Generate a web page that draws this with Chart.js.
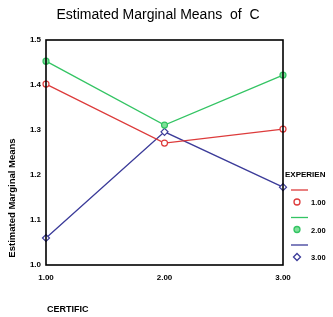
<!DOCTYPE html>
<html><head><meta charset="utf-8">
<script src="https://cdn.jsdelivr.net/npm/chart.js@4"></script>
<style>html,body{margin:0;padding:0;background:#fff;}#wrap{width:333px;height:317px;position:relative;}</style>
</head><body><div id="wrap"><canvas id="c" width="333" height="317"></canvas></div>
<script>
const categories = ['1.00', '2.00', '3.00'];
const seriesNames = ['1.00', '2.00', '3.00'];
const series1 = [1.402, 1.271, 1.302];
const series2 = [1.453, 1.311, 1.422];
const series3 = [1.060, 1.296, 1.173];
const yTicks = ['1.0', '1.1', '1.2', '1.3', '1.4', '1.5'];
const colors = ['#dd3b3b', '#33c463', '#3b3b99'];

const styles = ['circle', 'circle', 'rectRot'];
const fills = ['#ffffff', '#7fe09a', '#ffffff'];

const decor = {
  id: 'decor',
  afterDraw(chart) {
    const ctx = chart.ctx, a = chart.chartArea;
    ctx.save();
    ctx.strokeStyle = '#000';
    ctx.lineWidth = 1.6;
    ctx.strokeRect(a.left, a.top, a.right - a.left, a.bottom - a.top);
    ctx.fillStyle = '#000';
    ctx.font = '14px "Liberation Sans", Arial, sans-serif';
    ctx.textAlign = 'center'; ctx.textBaseline = 'middle';
    ctx.fillText('Estimated Marginal Means  of  C', 158, 15);
    ctx.font = 'bold 9px "Liberation Sans", Arial, sans-serif';
    ctx.textAlign = 'left';
    ctx.fillText('CERTIFIC', 47, 310);
    ctx.save();
    ctx.translate(12, 198); ctx.rotate(-Math.PI / 2);
    ctx.textAlign = 'center';
    ctx.font = 'bold 9.5px "Liberation Sans", Arial, sans-serif';
    ctx.fillText('Estimated Marginal Means', 0, 0);
    ctx.restore();
    // legend
    ctx.textAlign = 'left';
    ctx.font = 'bold 8px "Liberation Sans", Arial, sans-serif';
    ctx.fillText('EXPERIEN', 285, 175);
    for (let i = 0; i < 3; i++) {
      const y0 = 190 + i * 27.5;
      ctx.strokeStyle = colors[i]; ctx.lineWidth = 1.3;
      ctx.beginPath(); ctx.moveTo(291, y0); ctx.lineTo(308, y0); ctx.stroke();
      ctx.fillStyle = fills[i];
      ctx.beginPath();
      const mx = 297, my = y0 + 12;
      if (styles[i] === 'circle') { ctx.arc(mx, my, 3, 0, Math.PI * 2); }
      else { ctx.moveTo(mx, my - 3.5); ctx.lineTo(mx + 3.5, my); ctx.lineTo(mx, my + 3.5); ctx.lineTo(mx - 3.5, my); ctx.closePath(); }
      ctx.fill(); ctx.stroke();
      ctx.fillStyle = '#000';
      ctx.font = 'bold 7.5px "Liberation Sans", Arial, sans-serif';
      ctx.fillText(seriesNames[i], 311, my + 1);
    }
    ctx.restore();
  }
};

const datasets = [series1, series2, series3].map((d, i) => ({
  label: seriesNames[i], data: d,
  borderColor: colors[i], backgroundColor: fills[i],
  borderWidth: 1.3, pointStyle: styles[i], pointRadius: styles[i] === 'rectRot' ? 3.5 : 3,
  pointBorderWidth: 1.2, pointBackgroundColor: fills[i], pointBorderColor: colors[i],
  tension: 0, clip: false
}));

new Chart(document.getElementById('c'), {
  type: 'line',
  data: { labels: categories, datasets },
  options: {
    responsive: false, animation: false, events: [],
    layout: { padding: { left: 0, right: 50, top: 40, bottom: 0 } },
    plugins: { legend: { display: false }, title: { display: false }, tooltip: { enabled: false } },
    scales: {
      x: {
        offset: false,
        grid: { display: false, drawTicks: false },
        border: { display: false },
        ticks: { padding: 8, maxRotation: 0, color: '#000', font: { family: '"Liberation Sans", Arial, sans-serif', size: 8, weight: 'bold' } },
        afterFit: s => { s.height = 52; }
      },
      y: {
        min: 1.0, max: 1.5,
        grid: { display: false, drawTicks: false },
        border: { display: false },
        afterBuildTicks: s => { s.ticks = yTicks.map(v => ({ value: parseFloat(v) })); },
        ticks: { padding: 5, color: '#000', font: { family: '"Liberation Sans", Arial, sans-serif', size: 8, weight: 'bold' },
          callback: (v) => yTicks.find(t => Math.abs(parseFloat(t) - v) < 1e-6) },
        afterFit: s => { s.width = 46; }
      }
    }
  },
  plugins: [decor]
});
</script></body></html>
